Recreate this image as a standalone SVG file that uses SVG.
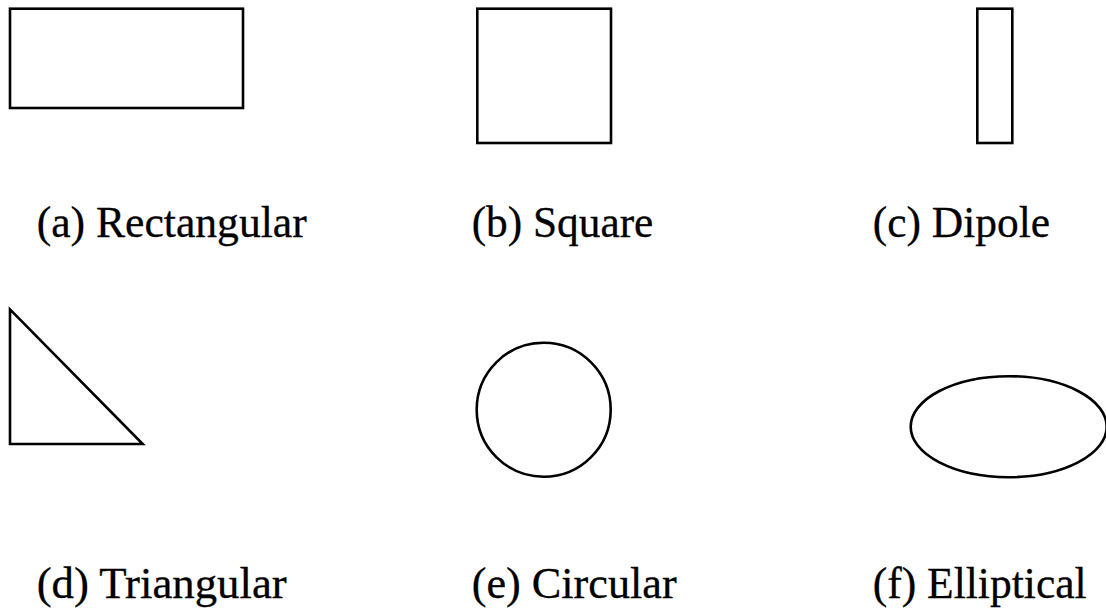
<svg xmlns="http://www.w3.org/2000/svg" width="1106" height="608" viewBox="0 0 1106 608">
<style>
.s{fill:#fff;stroke:#000;stroke-width:2.6}
.t{font-family:"Liberation Serif","Times New Roman",Times,serif;font-size:44px;fill:#000;stroke:#000;stroke-width:0.3}
</style>
<rect width="1106" height="608" fill="#fff"/>
<g id="rectangular"><rect class="s" x="10" y="8.7" width="233" height="99.3"/><text class="t" x="36.7" y="237" textLength="270" lengthAdjust="spacingAndGlyphs">(a) Rectangular</text></g>
<g id="square"><rect class="s" x="477.3" y="8.7" width="133.7" height="134.3"/><text class="t" x="471.7" y="237" textLength="181.6" lengthAdjust="spacingAndGlyphs">(b) Square</text></g>
<g id="dipole"><rect class="s" x="977.3" y="8.7" width="35" height="134.3"/><text class="t" x="872.7" y="237" textLength="177.3" lengthAdjust="spacingAndGlyphs">(c) Dipole</text></g>
<g id="triangular"><polygon class="s" points="10,309.3 10,444 142.7,444"/><text class="t" x="36.7" y="598" textLength="250" lengthAdjust="spacingAndGlyphs">(d) Triangular</text></g>
<g id="circular"><circle class="s" cx="543.7" cy="409.7" r="67"/><text class="t" x="471.7" y="598" textLength="205" lengthAdjust="spacingAndGlyphs">(e) Circular</text></g>
<g id="elliptical"><ellipse class="s" cx="1008.7" cy="426.7" rx="98" ry="50.5"/><text class="t" x="872.7" y="598" textLength="214" lengthAdjust="spacingAndGlyphs">(f) Elliptical</text></g>
</svg>
